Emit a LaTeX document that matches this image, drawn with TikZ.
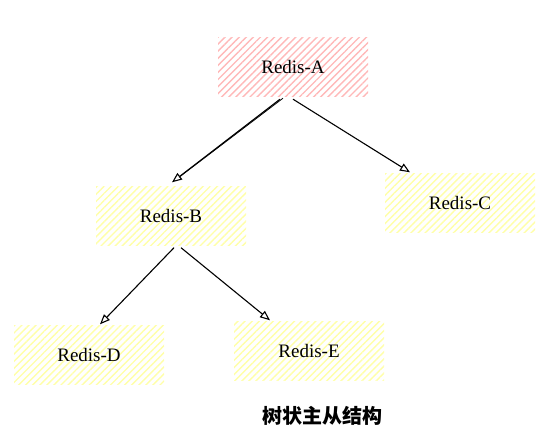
\documentclass[tikz,border=0pt]{standalone}
\usepackage{fontspec}
\setmainfont{Liberation Serif}
\newfontfamily\cjk{Noto Sans CJK SC}
\usetikzlibrary{patterns.meta,arrows.meta}
\definecolor{pinkh}{HTML}{FFB8B8}
\definecolor{yelh}{HTML}{FFFFA8}
\tikzset{
  box/.style={minimum width=150pt,minimum height=59pt,inner sep=0pt,
    font=\fontsize{19}{22}\selectfont},
  pinkbox/.style={box,pattern={Lines[angle=45,distance=5pt,line width=1.4pt]},pattern color=pinkh},
  yelbox/.style={box,pattern={Lines[angle=45,distance=5pt,line width=1.4pt]},pattern color=yelh},
  conn/.style={draw=black,line width=1.1pt,-{Triangle[open,length=10pt,width=8pt]}},
}
\begin{document}
\begin{tikzpicture}[x=1pt,y=-1pt]
\useasboundingbox (0,0) rectangle (549,446);
\node[pinkbox] (A) at (293,67) {Redis-A};
\node[yelbox] (B) at (171,216) {Redis-B};
\node[yelbox] (C) at (460,203) {Redis-C};
\node[yelbox] (D) at (89,355) {Redis-D};
\node[yelbox] (E) at (309,351) {Redis-E};
\node[font=\cjk\bfseries\fontsize{20}{22}\selectfont] (cap) at (322,416) {树状主从结构};
\draw[conn] ([xshift=-13pt,yshift=-2pt]A.south) -- ([xshift=1pt,yshift=4pt]B.north);
\draw[line width=0.8pt] ([xshift=-10pt,yshift=-1pt]A.south) -- ([xshift=8pt,yshift=9pt]B.north);
\draw[conn] ([yshift=-2pt]A.south) -- ([xshift=-50pt,yshift=1pt]C.north);
\draw[conn] ([xshift=3pt,yshift=-2pt]B.south) -- ([xshift=11pt,yshift=1pt]D.north);
\draw[conn] ([xshift=10pt,yshift=-2pt]B.south) -- ([xshift=-39pt,yshift=1pt]E.north);
\end{tikzpicture}
\end{document}
